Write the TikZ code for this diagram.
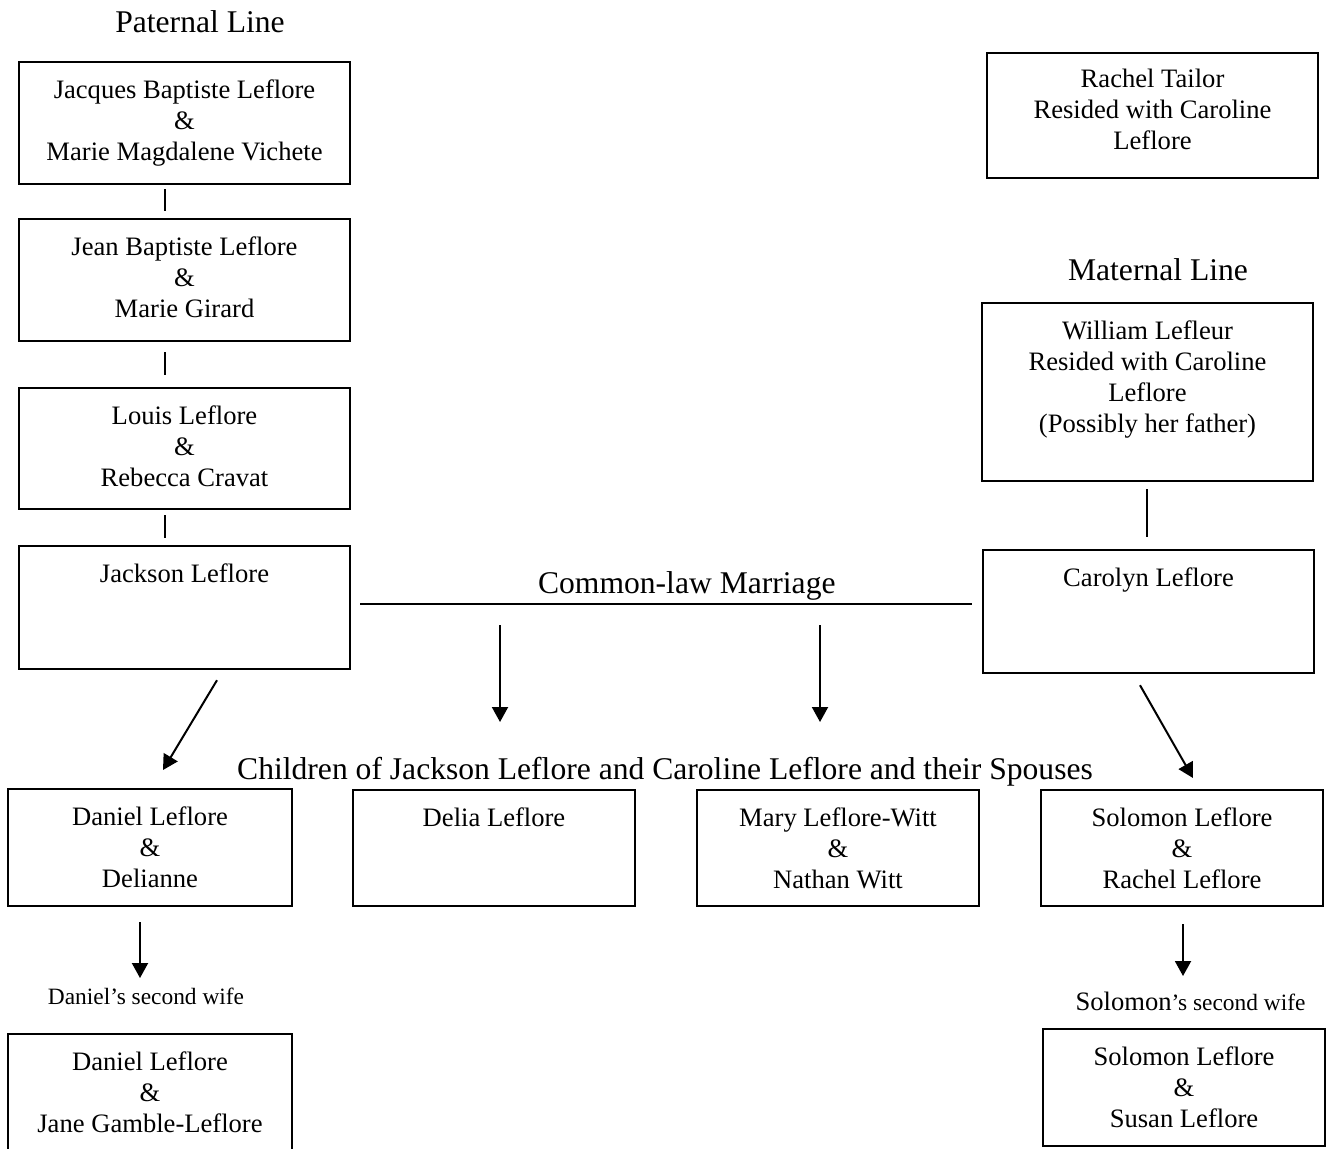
\documentclass[tikz,border=0pt]{standalone}
\usepackage{fontspec}
\setmainfont{Liberation Serif}
\usetikzlibrary{arrows.meta}

\begin{document}
\begin{tikzpicture}[x=0.5pt, y=-0.5pt,
    box/.style n args={3}{draw=black, line width=1.1pt, align=center, anchor=north, inner sep=0pt, minimum width=#1, text height=#2, text depth=#3, font=\fontsize{13.3}{15.5}\selectfont},
    title/.style={font=\fontsize{15.8}{18}\selectfont},
    small/.style={anchor=north, inner sep=0pt, font=\fontsize{11.7}{14}\selectfont},
    link/.style={line width=1pt},
    arr/.style={line width=1pt, -{Triangle[length=7.5pt, width=8pt]}}]
    \useasboundingbox (0,0) rectangle (1326,1148);

    %Titles
    \node[title] at (200,22) (pl) {Paternal Line};
    \node[title] at (1158,270) (ml) {Maternal Line};
    \node[title] at (665,772) (ch) {Children of Jackson Leflore and Caroline Leflore and their Spouses};

    %Nodes
    \node[box={165.5pt}{49pt}{12pt}] at (184.5,61) (jb) {Jacques Baptiste Leflore\\ \&\\ Marie Magdalene Vichete};
    \node[box={165.5pt}{49pt}{12pt}] at (184.5,218) (jn) {Jean Baptiste Leflore\\ \&\\ Marie Girard};
    \node[box={165.5pt}{49pt}{11.5pt}] at (184.5,387) (lo) {Louis Leflore\\ \&\\ Rebecca Cravat};
    \node[box={165.5pt}{18pt}{43.5pt}] at (184.5,545) (jk) {Jackson Leflore};

    \node[box={165.5pt}{48pt}{14.5pt}] at (1152.5,52) (rt) {Rachel Tailor\\ Resided with Caroline\\ Leflore};
    \node[box={165.5pt}{64.5pt}{24.5pt}] at (1147.5,302) (wl) {William Lefleur\\ Resided with Caroline\\ Leflore\\ (Possibly her father)};
    \node[box={165.5pt}{18pt}{43.5pt}] at (1148.5,549) (cl) {Carolyn Leflore};

    \node[box={142pt}{49pt}{9.5pt}] at (150,788) (dn) {Daniel Leflore\\ \&\\ Delianne};
    \node[box={141pt}{18pt}{40pt}] at (494,789) (dl) {Delia Leflore};
    \node[box={141pt}{49pt}{9pt}] at (838,789) (my) {Mary Leflore-Witt\\ \&\\ Nathan Witt};
    \node[box={141pt}{49pt}{9pt}] at (1182,789) (sl) {Solomon Leflore\\ \&\\ Rachel Leflore};

    \node[small] at (146,988) (dsw) {Daniel’s second wife};
    \node[small] at (1190.5,992) (ssw) {{\fontsize{13.3}{14}\selectfont Solomon}’s second wife};

    \node[box={142pt}{49pt}{12.5pt}] at (150,1033) (dn2) {Daniel Leflore\\ \&\\ Jane Gamble-Leflore};
    \node[box={141pt}{49pt}{9.5pt}] at (1184,1028) (sl2) {Solomon Leflore\\ \&\\ Susan Leflore};

    \coordinate (a1) at (500,625);
    \coordinate (b1) at (500,722);
    \coordinate (a2) at (820,625);
    \coordinate (b2) at (820,722);

    %Lines
    \draw[link] ([shift={(-19.5,4)}]jb.south) -- ([shift={(-19.5,-7)}]jn.north);
    \draw[link] ([shift={(-19.5,10)}]jn.south) -- ([shift={(-19.5,-12)}]lo.north);
    \draw[link] ([shift={(-19.5,5)}]lo.south) -- ([shift={(-19.5,-7)}]jk.north);
    \draw[link] ([shift={(-0.5,7)}]wl.south) -- ([shift={(-1.5,-12)}]cl.north);
    \draw[link] ([shift={(9,-3.5)}]jk.east) -- node[title, above, pos=0.534, inner sep=1.5pt] (cm) {Common-law Marriage} ([shift={(-10,-7.5)}]cl.west);

    %Arrows
    \draw[arr] (a1) -- (b1);
    \draw[arr] (a2) -- (b2);
    \draw[arr] ([shift={(32.5,10)}]jk.south) -- ([shift={(13,-18)}]dn.north);
    \draw[arr] ([shift={(-8.5,11)}]cl.south) -- ([shift={(11,-11)}]sl.north);
    \draw[arr] ([shift={(-10,15)}]dn.south) -- ([shift={(-6,-10)}]dsw.north);
    \draw[arr] ([shift={(1,17)}]sl.south) -- ([shift={(-7.5,-16)}]ssw.north);

\end{tikzpicture}
\end{document}
